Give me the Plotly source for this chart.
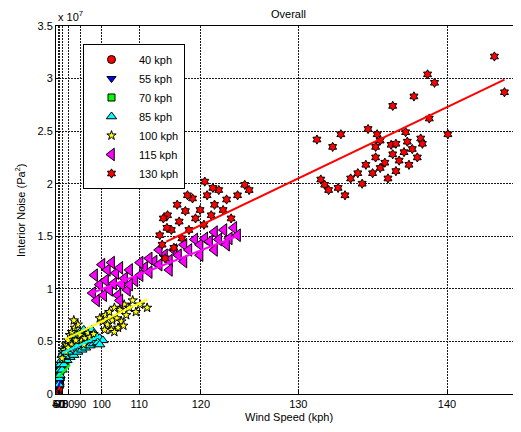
import plotly.graph_objects as go

# ---------------- data (wind speed in kph, interior noise in units of 1e7 Pa^2) -------------
V40 = [30, 35, 40, 45, 50, 55, 58, 60, 62, 48, 53]
N40 = [0.02, 0.03, 0.03, 0.04, 0.05, 0.06, 0.07, 0.08, 0.09, 0.03, 0.05]

V55 = [40, 45, 50, 53, 56, 58, 60, 62, 64, 48, 55, 59]
N55 = [0.06, 0.07, 0.08, 0.09, 0.10, 0.11, 0.12, 0.13, 0.14, 0.10, 0.13, 0.15]

V70 = [45, 50, 55, 58, 60, 62, 64, 66, 68, 70, 72, 74, 76, 52, 57, 61, 65, 69, 73]
N70 = [0.13, 0.15, 0.16, 0.18, 0.19, 0.21, 0.22, 0.24, 0.25, 0.26, 0.28, 0.29, 0.30,
       0.17, 0.20, 0.23, 0.26, 0.28, 0.31]

V85 = [55, 58, 60, 63, 67, 69.5, 73.5, 76.9, 79.7, 81.8, 84.8, 87.1, 90, 92.2, 94.3, 96.1,
       97.7, 99.3, 100.4, 61, 69.5, 73.5, 78.3, 81.8, 85.5, 88.5, 91.1, 93.2, 95.3, 96.9,
       98.5, 83.8, 90, 94.3, 75.4, 87.1, 92.2, 96.1, 99.3, 79.7]
N85 = [0.09, 0.15, 0.23, 0.28, 0.32, 0.37, 0.42, 0.47, 0.49, 0.51, 0.53, 0.56, 0.59, 0.61,
       0.59, 0.61, 0.56, 0.53, 0.51, 0.18, 0.23, 0.28, 0.32, 0.35, 0.37, 0.40, 0.42, 0.44,
       0.46, 0.48, 0.49, 0.44, 0.49, 0.51, 0.36, 0.47, 0.53, 0.53, 0.47, 0.40]

V100 = [69.5, 73.5, 76.9, 79.7, 81.8, 83.8, 86.3, 88.5, 90, 91.1, 92.7, 94.3, 95.3, 83.8,
        87.1, 76.9, 79.7, 92.2, 96.9, 85.5,
        99.3, 100.4, 101.3, 101.9, 102.5, 103.4, 104.0, 104.7, 105.5, 105.9, 106.6, 107.1,
        107.8, 108.6, 109.3, 110.2, 111.6, 103.1, 105.0, 101.0, 106.4, 104.0]
N100 = [0.34, 0.42, 0.47, 0.51, 0.56, 0.59, 0.63, 0.66, 0.56, 0.51, 0.53, 0.58, 0.54, 0.47,
        0.51, 0.40, 0.44, 0.47, 0.57, 0.70,
        0.72, 0.69, 0.75, 0.66, 0.78, 0.70, 0.82, 0.72, 0.80, 0.69, 0.85, 0.75, 0.82, 0.89,
        0.78, 0.85, 0.82, 0.61, 0.63, 0.61, 0.65, 0.59]

V115 = [96.5, 97.3, 98.1, 99.3, 100.1, 100.7, 101.3, 101.9, 102.6, 103.2, 103.8, 104.4,
        105.0, 105.5, 106.0, 106.7, 107.4, 107.9, 109.1, 110.2, 111.1, 112.0, 112.9, 113.8,
        114.7, 115.5, 116.2, 116.9, 117.7, 118.4, 119.2, 119.9, 120.5, 121.1, 121.7, 122.2,
        122.8, 123.4, 123.9, 124.3, 115.5, 117.7, 119.9, 121.7, 123.1, 113.8, 112.0, 110.2,
        107.9, 105.5]
N115 = [0.96, 1.13, 0.89, 1.04, 1.23, 0.94, 1.08, 1.18, 0.99, 1.25, 1.05, 1.15, 0.94, 1.20,
        1.04, 1.10, 0.99, 1.18, 1.08, 1.13, 1.20, 1.16, 1.26, 1.23, 1.32, 1.27, 1.37, 1.32,
        1.42, 1.37, 1.47, 1.42, 1.48, 1.45, 1.54, 1.47, 1.56, 1.48, 1.58, 1.51, 1.18, 1.26,
        1.32, 1.37, 1.42, 1.37, 1.29, 1.25, 1.04, 0.89]

V130 = [113.9, 114.3, 114.8, 115.2, 115.8, 116.2, 116.7, 117.0, 117.4, 117.9, 118.4, 118.9,
        119.3, 119.9, 120.4, 120.8, 121.3, 121.7, 122.2, 122.7, 123.1, 123.6, 124.3, 125.05,
        125.5, 120.5, 121.5, 118.2, 115.1, 114.5,
        131.5, 132.7, 133.3, 135.2, 135.8, 137.6, 136.8, 138.1, 138.9, 139.3, 139.0, 138.5,
        140.05, 142.5, 143.0, 136.7, 137.0, 137.7, 136.0, 135.7,
        131.8, 132.1, 132.4, 133.1, 133.6, 134.0, 134.5, 134.8, 135.05, 135.5, 135.7, 136.0,
        136.3, 136.5, 136.8, 137.0, 137.2, 137.5, 137.8, 138.0, 138.3, 138.6]
N130 = [1.51, 1.42, 1.29, 1.70, 1.56, 1.39, 1.80, 1.64, 1.48, 1.74, 1.56, 1.86, 1.67, 1.75,
        1.61, 1.89, 1.70, 1.80, 1.94, 1.75, 1.85, 1.67, 1.89, 1.99, 1.94, 2.02, 1.96, 1.89,
        1.58, 1.67,
        2.42, 2.35, 2.47, 2.52, 2.47, 2.49, 2.74, 2.83, 3.04, 2.96, 2.62, 2.43, 2.47, 3.21,
        2.87, 2.37, 2.38, 2.40, 2.41, 2.35,
        2.04, 1.99, 1.94, 1.96, 1.89, 2.05, 2.10, 2.00, 2.18, 2.10, 2.25, 2.15, 2.20, 2.05,
        2.28, 2.12, 2.22, 2.30, 2.18, 2.33, 2.25, 2.38]

# fitted lines (end points)
FIT40_V, FIT40_N = [40, 62], [0.03, 0.08]
FIT55_V, FIT55_N = [45, 65], [0.07, 0.13]
FIT70_V, FIT70_N = [50, 82], [0.16, 0.28]
FIT85_V, FIT85_N = [69.5, 99.3], [0.39, 0.55]
FIT100_V, FIT100_N = [75.5, 111.6], [0.52, 0.90]
FIT115_V, FIT115_N = [97.3, 124.5], [0.97, 1.51]
FIT130_V, FIT130_N = [115.0, 143.0], [1.45, 2.99]

X_TICKS = [40, 50, 60, 70, 80, 90, 100, 110, 120, 130, 140]
Y_TICKS = [0, 0.5, 1, 1.5, 2, 2.5, 3, 3.5]
LABELS = ["40 kph", "55 kph", "70 kph", "85 kph", "100 kph", "115 kph", "130 kph"]

# ---------------- axis transform (wind speed axis is a power scale) -------------
P = 6.5
def tr(vals):
    return [v ** P for v in vals]

series = [
    (V40, N40, "circle", "#ff0000", 8),
    (V55, N55, "triangle-down", "#0000ff", 8),
    (V70, N70, "square", "#00ff00", 7),
    (V85, N85, "triangle-up", "#00ffff", 9),
    (V100, N100, "star", "#ffff00", 7),
    (V115, N115, "triangle-left", "#ff00ff", 11),
    (V130, N130, "hexagram", "#ff0000", 7),
]
fits = [
    (FIT40_V, FIT40_N, "#ff0000"), (FIT55_V, FIT55_N, "#0000ff"),
    (FIT70_V, FIT70_N, "#00ff00"), (FIT85_V, FIT85_N, "#00ffff"),
    (FIT100_V, FIT100_N, "#ffff00"), (FIT115_V, FIT115_N, "#ff00ff"),
    (FIT130_V, FIT130_N, "#ff0000"),
]

fig = go.Figure()
for (v, n, sym, col, sz), lab in zip(series, LABELS):
    fig.add_trace(go.Scatter(
        x=tr(v), y=n, mode="markers", name=lab,
        marker=dict(symbol=sym, color=col, size=sz, line=dict(color="black", width=1)),
    ))
for v, n, col in fits:
    fig.add_trace(go.Scatter(x=tr(v), y=n, mode="lines", showlegend=False,
                             line=dict(color=col, width=2)))

# page has an 8px body margin; compensate so plot area sits at 56..521 x 26..394
OFF = 8
W, H = 521 - OFF, 432 - OFF
L, R, T, B = 56 - OFF, 0, 26 - OFF, 38
PL, PR = 56, 521          # plot area in page pixels
pb = (447 - 101.7) / (140 ** P - 100 ** P)
pa = 101.7 - pb * 100 ** P
x_lo = (PL - pa) / pb
x_hi = (PR - pa) / pb
PW, PH = W - L - R, H - T - B

FONT = "Liberation Sans, Arial, Helvetica, sans-serif"
grid = dict(showgrid=True, gridcolor="#1a1a1a", griddash="2px,1px", gridwidth=1)

fig.update_layout(
    width=W, height=H,
    margin=dict(l=L, r=R, t=T, b=B, autoexpand=False),
    paper_bgcolor="white", plot_bgcolor="white",
    font=dict(family=FONT, size=11, color="black"),
    showlegend=True,
    legend=dict(x=(83 - PL) / PW, y=(394 - 44) / PH,
                xanchor="left", yanchor="top",
                bgcolor="white", bordercolor="black", borderwidth=1,
                font=dict(size=11), itemwidth=45, tracegroupgap=0),
    xaxis=dict(range=[x_lo, x_hi], tickvals=tr(X_TICKS), ticktext=[str(t) for t in X_TICKS],
               tickangle=0, automargin=False,
               ticks="inside", ticklen=4, tickcolor="black",
               showline=True, linecolor="black", linewidth=1, mirror=True,
               zeroline=False, **grid),
    yaxis=dict(range=[0, 3.5], tickvals=Y_TICKS, ticktext=[f"{t:g}" for t in Y_TICKS],
               automargin=False,
               ticks="inside", ticklen=4, tickcolor="black",
               showline=True, linecolor="black", linewidth=1, mirror=False,
               zeroline=False, **grid),
    annotations=[
        dict(text="Overall", xref="paper", yref="paper", x=0.5, y=1,
             yshift=4, xanchor="center", yanchor="bottom", showarrow=False,
             font=dict(size=11)),
        dict(text="x 10<sup>7</sup>", xref="paper", yref="paper", x=0, y=1,
             xanchor="left", yanchor="bottom", yshift=1, showarrow=False,
             font=dict(size=11)),
        dict(text="Wind Speed (kph)", xref="paper", yref="paper", x=0.5, y=0,
             xanchor="center", yanchor="top", yshift=-15, showarrow=False,
             font=dict(size=11)),
        dict(text="Interior Noise (Pa<sup>2</sup>)", xref="paper", yref="paper",
             x=0, y=0.5, xanchor="center", yanchor="middle", xshift=-36,
             textangle=-90, showarrow=False, font=dict(size=11)),
    ],
)

fig.write_html("out.html")
